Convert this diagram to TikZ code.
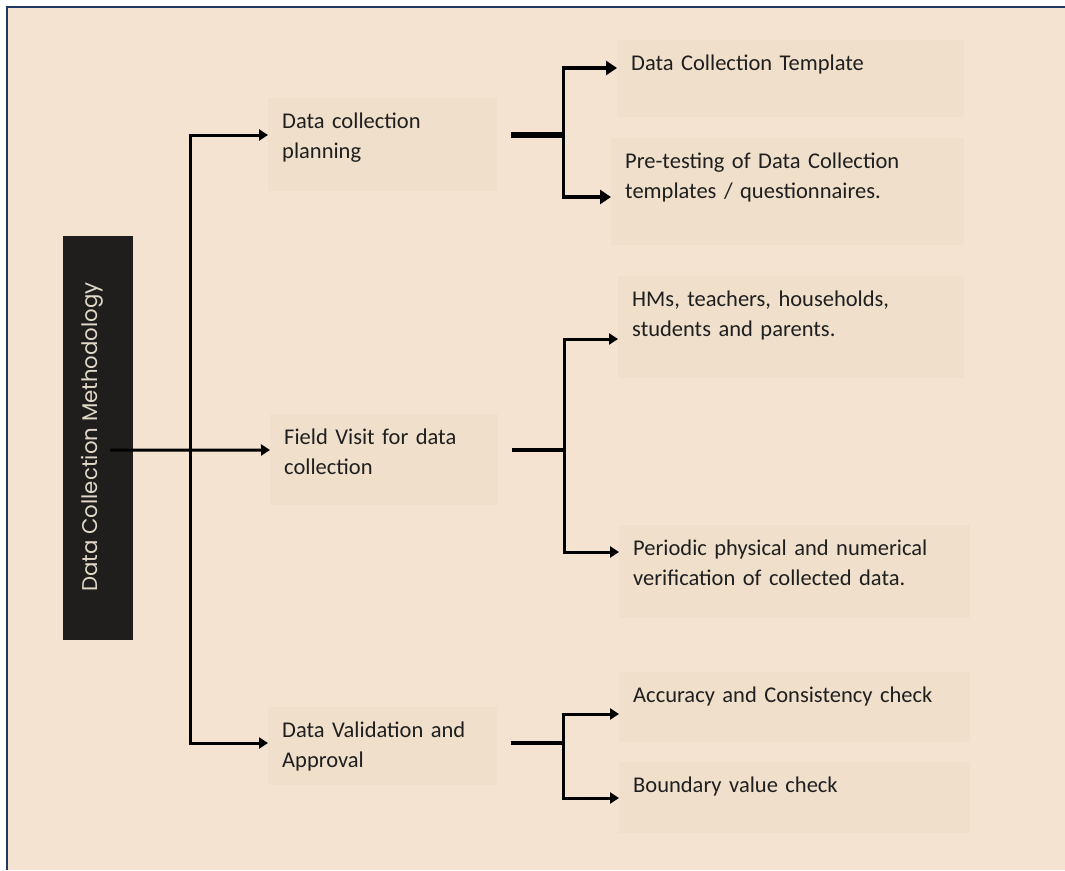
\documentclass[tikz,border=0pt]{standalone}
\usepackage{fontspec}
\setmainfont{Carlito}
\newfontfamily\titlefont{Poppins}
\usetikzlibrary{arrows.meta}

\definecolor{cream}{RGB}{244,227,208}
\definecolor{sand}{RGB}{240,223,203}
\definecolor{ink}{RGB}{32,30,28}
\definecolor{navy}{RGB}{31,56,100}
\definecolor{titlegrey}{RGB}{226,216,200}

\newcommand{\infobox}[7]{
  % box
  \node[panel, minimum width=#4, minimum height=#5] (#1) at (#2,#3) {};

  % text
  \node[paneltext] (#1-txt) at ([xshift=14,yshift=-30]#1.north west) {#6};

  % arrow ends
  \coordinate (#1-in) at ([yshift=-#7]#1.north west);
  \coordinate (#1-out) at ([xshift=14,yshift=-#7]#1.north east);
}

\newcommand{\branch}[5]{
  \coordinate (#1-fork) at ([xshift=52]#1-out);

  % stub
  \draw[#4] (#1-out) -- (#1-fork);

  % arrows
  \draw[#5] (#1-fork) |- (#2-in);
  \draw[#5] (#1-fork) |- (#3-in);
}

\begin{document}
\begin{tikzpicture}[x=1pt,y=-1pt,
  panel/.style={fill=sand, anchor=north west, inner sep=0pt},
  paneltext/.style={anchor=base west, inner sep=0pt, align=left, text width=345pt,
    font=\fontsize{22.5}{30}\selectfont, text=black!88},
  darkbox/.style={fill=ink, anchor=north west, inner sep=0pt},
  titletext/.style={font=\titlefont\fontsize{21.3}{25}\selectfont, text=titlegrey, inner sep=0pt},
  conn/.style={line width=3pt, -{Triangle[length=9pt,width=11pt]}},
  thickconn/.style={line width=3.6pt, -{Triangle[length=11pt,width=14pt]}},
  stubline/.style={line width=4.2pt},
  thickstub/.style={line width=5.5pt}]

\useasboundingbox (0,0) rectangle (1065,870);

% page
\fill[white] (0,0) rectangle (1065,870);
\fill[cream] (7,7) rectangle (1065,870);
\draw[navy, line width=2pt] (7,870) -- (7,7) -- (1065,7);

% title bar
\node[darkbox, minimum width=70, minimum height=404] (dcm) at (63,236) {};
\node[titletext, rotate=90, anchor=base] (dcm-txt) at (97,437) {Data Collection Methodology};

% boxes
\foreach \n/\x/\y/\w/\h/\off/\txt in {
    plan/268/98/229/93/37/{Data collection\\planning},
    fv/270/414/228/91/36/{Field Visit for data\\collection},
    val/268/707/229/78/36/{Data Validation and\\Approval},
    tmpl/617/40/347/77/28/{Data Collection Template},
    pret/611/138/353/107/59/{Pre-testing of Data Collection\\templates / questionnaires.},
    hms/618/276/346/102/63/{HMs, teachers, households,\\students and parents.},
    per/619/525/351/93/27/{Periodic physical and numerical\\verification of collected data.},
    acc/619/672/351/70/42/{Accuracy and Consistency check},
    bnd/619/762/351/71/36/{Boundary value check}}
  {\infobox{\n}{\x}{\y}{\w}{\h}{\txt}{\off}}

% trunk
\coordinate (dcm-out) at ([xshift=-23,yshift=-12]dcm.east);
\coordinate (spine) at ([xshift=-80]fv-in);
\draw[conn] (dcm-out) -- (fv-in);
\draw[conn] (spine) |- (plan-in);
\draw[conn] (spine) |- (val-in);

% branches
\branch{plan}{tmpl}{pret}{thickstub}{thickconn}
\branch{fv}{hms}{per}{stubline}{conn}
\branch{val}{acc}{bnd}{stubline}{conn}

\end{tikzpicture}
\end{document}
